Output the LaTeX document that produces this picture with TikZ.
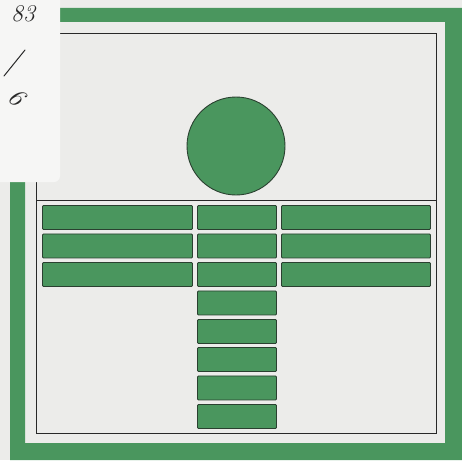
\documentclass[tikz,border=0pt]{standalone}
\definecolor{cgreen}{RGB}{74,150,94}
\definecolor{cedge}{RGB}{42,64,48}
\definecolor{cpaper}{RGB}{236,236,234}
\definecolor{cnote}{RGB}{246,246,245}
\definecolor{cink}{RGB}{40,40,40}

\begin{document}
\begin{tikzpicture}[x=1pt,y=-1pt,
  bar/.style={draw=cedge,fill=cgreen,line width=0.9pt,rounded corners=1pt,
    inner sep=0pt,minimum height=24pt,anchor=north west},
  wide/.style={bar,minimum width=150pt},
  narrow/.style={bar,minimum width=79pt}]
  \useasboundingbox (0,0) rectangle (462,460);
  \fill[cpaper] (0,0) rectangle (462,460);
  % green frame
  \fill[cgreen,even odd rule] (10,8) rectangle (462,460) (25,22) rectangle (445,443);
  % thin border and divider
  \coordinate (tl) at (36,33);
  \coordinate (br) at (436,433);
  \coordinate (dl) at (36,200);
  \coordinate (dr) at (436,200);
  \draw[cink,line width=0.8pt] (tl) rectangle (br);
  \draw[cink,line width=0.8pt] (dl) -- (dr);
  % note stuck over the corner
  \fill[cnote,rounded corners=6pt] (-10,-10) rectangle (60,182);
  \node[cink,inner sep=1pt] (num) at (23,14) {\fontsize{24}{24}\selectfont\itshape 83};
  \coordinate (sa) at (25,50);
  \coordinate (sb) at (4,76);
  \draw[cink,line width=1pt,line cap=round] (sa) -- (sb);
  \node[cink,rotate=-40,inner sep=1pt] (six) at (17,97) {\fontsize{26}{26}\selectfont\itshape 6};
  % head
  \node[circle,draw=cedge,fill=cgreen,line width=0.9pt,minimum size=98pt,inner sep=0pt] (disc) at (236,146) {};
  % arms
  \node[wide] (a1) at (42,205) {};
  \node[narrow] (b1) at (197,205) {};
  \node[wide,minimum width=149pt] (c1) at (281,205) {};
  \node[wide] (a2) at (42,233.5) {};
  \node[narrow] (b2) at (197,233.5) {};
  \node[wide,minimum width=149pt] (c2) at (281,233.5) {};
  \node[wide] (a3) at (42,262) {};
  \node[narrow] (b3) at (197,262) {};
  \node[wide,minimum width=149pt] (c3) at (281,262) {};
  % stem
  \node[narrow] (s1) at (197,290.5) {};
  \node[narrow] (s2) at (197,319) {};
  \node[narrow] (s3) at (197,347) {};
  \node[narrow] (s4) at (197,375.5) {};
  \node[narrow] (s5) at (197,404) {};
\end{tikzpicture}
\end{document}
